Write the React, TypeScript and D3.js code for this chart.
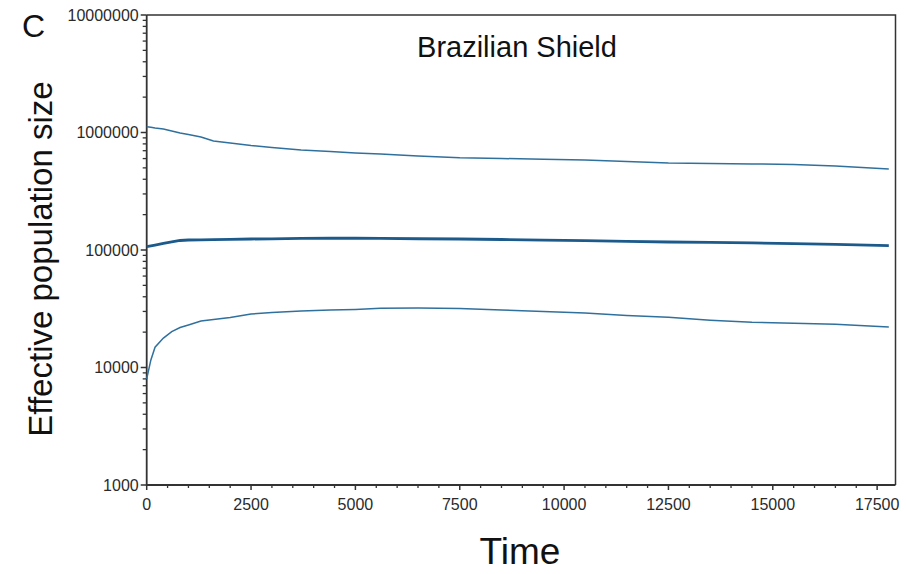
import React from "react";
import * as d3 from "d3";

const times = [0, 100, 200, 400, 600, 800, 1000, 1300, 1600, 2000, 2500, 3000, 3700, 4400, 5000, 5600, 6500, 7500, 8500, 9500, 10500, 11500, 12500, 13500, 14500, 15500, 16500, 17780];
const upper = [1120000, 1110000, 1090000, 1070000, 1030000, 990000, 962000, 916000, 847000, 815000, 775000, 745000, 710000, 689000, 670000, 657000, 631000, 610000, 601000, 592000, 584000, 567000, 550000, 545000, 540000, 535000, 519000, 489000];
const median = [106600, 108300, 110000, 113600, 117000, 120500, 121600, 122000, 122500, 123300, 124000, 124500, 125500, 125900, 125900, 125600, 124700, 124000, 122800, 121500, 120000, 118600, 117000, 116000, 114800, 113500, 111500, 109000];
const lower = [8000, 11600, 14900, 17800, 20200, 21900, 23000, 24900, 25600, 26600, 28500, 29400, 30200, 30800, 31200, 31900, 32100, 31800, 30800, 30000, 29100, 27700, 26800, 25300, 24300, 23800, 23300, 22100];

const xTicks = [0, 2500, 5000, 7500, 10000, 12500, 15000, 17500];
const yTicks = [1000, 10000, 100000, 1000000, 10000000];

const W = 906, H = 574;
const L = 146.7, R = 895.5, T = 15, B = 485;
const FONT = "'Liberation Sans', Arial, sans-serif";

export default function App() {
  const x = d3.scaleLinear().domain([0, 17940]).range([L, R]);
  const y = d3.scaleLog().domain([1000, 10000000]).range([B, T]);
  const mk = (vals: number[]) =>
    d3.line<number>().x((_, i) => x(times[i])).y((v) => y(v))(vals) || "";

  const xMinor = d3.range(0, 17940, 500).filter((v) => v % 2500 !== 0);
  const yMinor: number[] = [];
  for (let e = 3; e < 7; e++) for (let k = 2; k <= 9; k++) yMinor.push(k * Math.pow(10, e));

  const axisColor = "#333";
  return (
    <svg width={W} height={H} style={{ position: "absolute", left: 0, top: 0, background: "#fff" }}>
      <rect x={0} y={0} width={W} height={H} fill="#fff" />
      <path d={`M${L},${T}H${R}V${B}`} fill="none" stroke={axisColor} strokeWidth={1.5} />
      <path d={`M${L},${T}V${B}H${R}`} fill="none" stroke={axisColor} strokeWidth={1.8} />
      {yTicks.map((v) => (
        <g key={"y" + v}>
          <line x1={L - 6} x2={L} y1={y(v)} y2={y(v)} stroke={axisColor} strokeWidth={1.5} />
          <text x={L - 8} y={y(v)} dy="0.35em" textAnchor="end" fontFamily={FONT} fontSize={16} fill="#2a2a2a">{v}</text>
        </g>
      ))}
      {yMinor.map((v) => (
        <line key={"ym" + v} x1={L - 4} x2={L} y1={y(v)} y2={y(v)} stroke={axisColor} strokeWidth={1.3} />
      ))}
      {xTicks.map((v) => (
        <g key={"x" + v}>
          <line x1={x(v)} x2={x(v)} y1={B} y2={B + 5} stroke={axisColor} strokeWidth={1.5} />
          <text x={x(v)} y={B + 25} textAnchor="middle" fontFamily={FONT} fontSize={16} fill="#2a2a2a">{v}</text>
        </g>
      ))}
      {xMinor.map((v) => (
        <line key={"xm" + v} x1={x(v)} x2={x(v)} y1={B} y2={B + 3} stroke={axisColor} strokeWidth={1.3} />
      ))}
      <path d={mk(upper)} fill="none" stroke="#30709d" strokeWidth={1.5} />
      <path d={mk(lower)} fill="none" stroke="#30709d" strokeWidth={1.5} />
      <path d={mk(median)} fill="none" stroke="#1c5a8c" strokeWidth={2.8} />
      <text x={22} y={37} fontFamily={FONT} fontSize={32} fill="#111">C</text>
      <text x={517} y={57} textAnchor="middle" fontFamily={FONT} fontSize={29} fill="#111">Brazilian Shield</text>
      <text transform={`translate(52,${259}) rotate(-90)`} textAnchor="middle" fontFamily={FONT} fontSize={33} fill="#111">Effective population size</text>
      <text x={520} y={564} textAnchor="middle" fontFamily={FONT} fontSize={37} fill="#111">Time</text>
    </svg>
  );
}
